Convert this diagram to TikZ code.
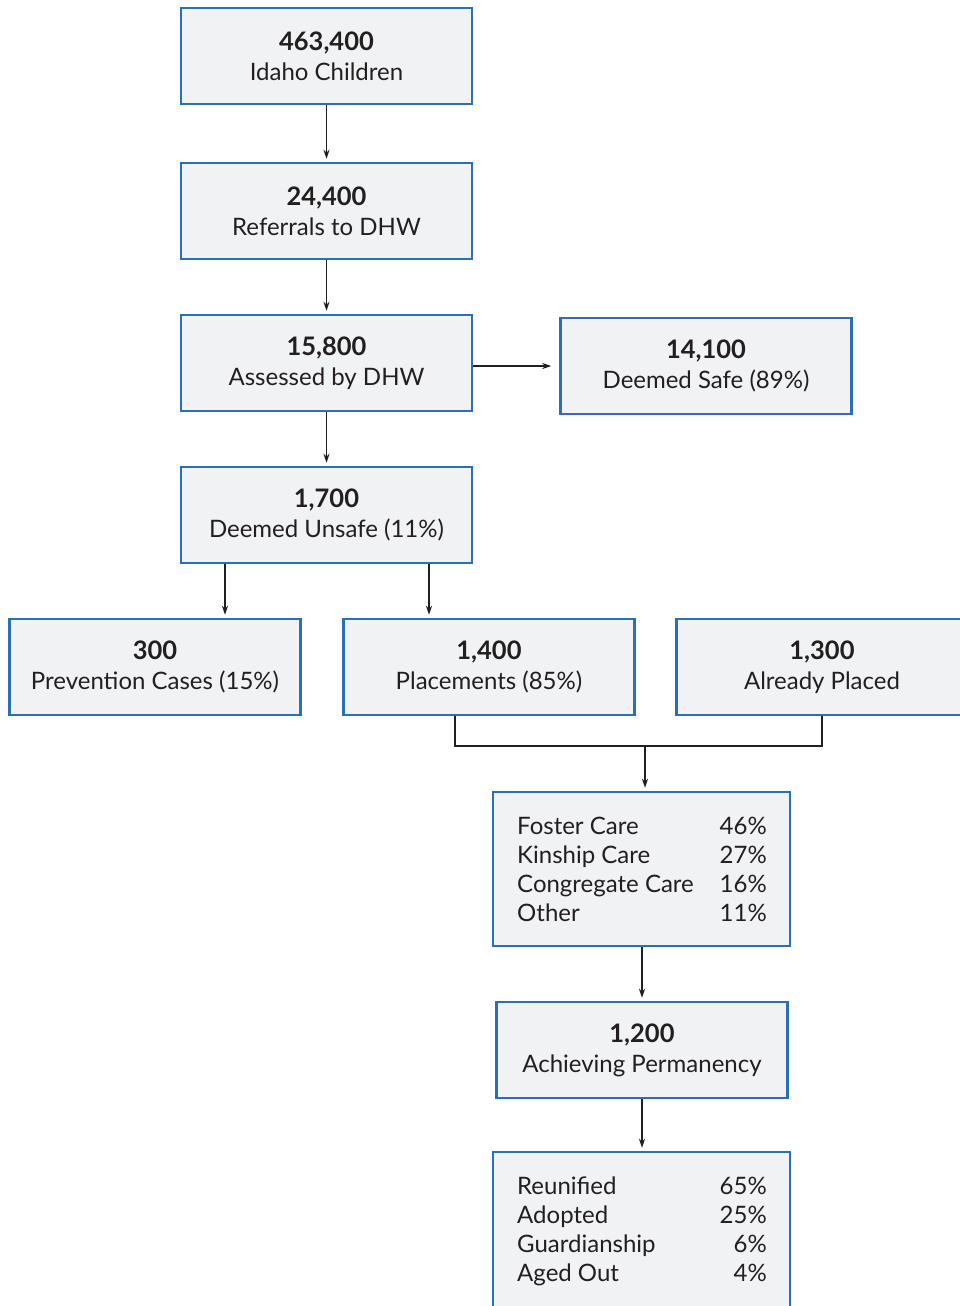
\documentclass[tikz,border=0pt]{standalone}
\usepackage{fontspec}
\setmainfont{Lato}
\usetikzlibrary{arrows.meta}
\definecolor{boxblue}{HTML}{2A70B8}
\definecolor{boxfill}{HTML}{F1F2F4}
\definecolor{ink}{HTML}{231F20}
\newcommand{\bignum}[1]{{\fontsize{25.5}{30}\selectfont\bfseries #1}}
\begin{document}
\begin{tikzpicture}[x=1pt,y=-1pt,
  box/.style={draw=boxblue,fill=boxfill,line width=2.5pt,minimum width=291pt,minimum height=96pt,inner sep=0pt,align=center,text=ink,font=\fontsize{24}{30}\selectfont},
  listbox/.style={box,minimum width=297pt,minimum height=154pt},
  conn/.style={draw=ink,line width=1.3pt,-{Stealth[length=9pt,width=6pt]},shorten >=3pt},
  wire/.style={draw=ink,line width=1.3pt},
  item/.style={text=ink,font=\fontsize{24}{30}\selectfont,inner sep=0pt}]
\useasboundingbox (0,0) rectangle (960,1306);
\clip (0,0) rectangle (960,1306);
\fill[white] (0,0) rectangle (960,1306);

\node[box] (n1) at (326.5,56) {\bignum{463,400}\\Idaho Children};
\node[box] (n2) at (326.5,211) {\bignum{24,400}\\Referrals to DHW};
\node[box] (n3) at (326.5,363) {\bignum{15,800}\\Assessed by DHW};
\node[box] (n4) at (706,366) {\bignum{14,100}\\Deemed Safe (89\%)};
\node[box] (n5) at (326.5,515) {\bignum{1,700}\\Deemed Unsafe (11\%)};
\node[box] (n6) at (155,667) {\bignum{300}\\Prevention Cases (15\%)};
\node[box] (n7) at (489,667) {\bignum{1,400}\\Placements (85\%)};
\node[box] (n8) at (822,667) {\bignum{1,300}\\Already Placed};
\node[listbox] (n9) at (641.5,869) {};
\node[box] (n10) at (642,1050) {\bignum{1,200}\\Achieving Permanency};
\node[listbox,minimum height=162pt] (n11) at (641.5,1233) {};

\foreach \lab/\pct [count=\i] in {Foster Care/46,Kinship Care/27,Congregate Care/16,Other/11}{
  \node[item,anchor=base west] (a\i) at (517,{834+29.3*(\i-1)}) {\lab};
  \node[item,anchor=base east] (b\i) at (767,{834+29.3*(\i-1)}) {\pct\%};
}
\foreach \lab/\pct [count=\i] in {Reunified/65,Adopted/25,Guardianship/6,Aged Out/4}{
  \node[item,anchor=base west] (c\i) at (517,{1194+29.3*(\i-1)}) {\lab};
  \node[item,anchor=base east] (d\i) at (767,{1194+29.3*(\i-1)}) {\pct\%};
}

\draw[conn] (n1) -- (n2);
\draw[conn] (n2) -- (n3);
\draw[conn,shorten >=8pt] (n3.east |- n4.west) -- (n4.west);
\draw[conn] (n3) -- (n5);
\draw[conn] ([xshift=-101.5pt]n5.south) -- ([xshift=-101.5pt]n5.south |- n6.north);
\draw[conn] ([xshift=102.5pt]n5.south) -- ([xshift=102.5pt]n5.south |- n7.north);
\coordinate (j) at (645,746);
\draw[wire] ([xshift=-34pt]n7.south) |- (j) -| (n8.south);
\draw[conn] (j) -- (j |- n9.north);
\draw[conn] (n9.south -| n10.north) -- (n10.north);
\draw[conn] (n10.south) -- (n10.south |- n11.north);
\end{tikzpicture}
\end{document}
